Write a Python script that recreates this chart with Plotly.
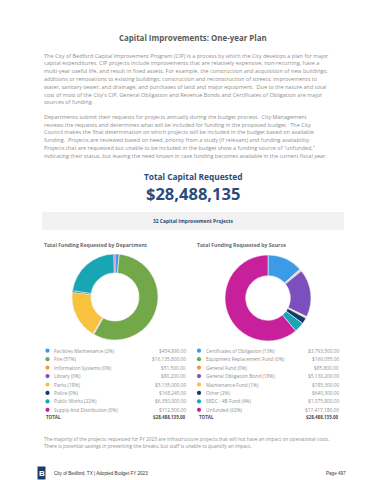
import plotly.graph_objects as go

# ---------------- data ----------------
dept_labels = ["Facilities Maintenance (2%)", "Fire (57%)", "Information Systems (0%)", "Library (0%)",
               "Parks (18%)", "Police (0%)", "Public Works (22%)", "Supply And Distribution (0%)"]
dept_values = [454890, 16135800, 51500, 80200, 5135000, 168245, 6350000, 112500]

src_labels = ["Certificates of Obligation (13%)", "Equipment Replacement Fund (0%)", "General Fund (0%)",
              "General Obligation Bond (18%)", "Maintenance Fund (1%)", "Other (2%)",
              "SEDC - 4B Fund (4%)", "Unfunded (62%)"]
src_values = [3793500, 160055, 85800, 5130200, 185300, 640300, 1075800, 17417180]

dept_colors = ["#3b9be6", "#72a84a", "#f39a3c", "#7b52be", "#f8c23f", "#133b66", "#18a6b4", "#c8209b"]
src_colors = ["#3b9be6", "#c9d3cf", "#f39a3c", "#7b4fbd", "#f3e7c4", "#133b66", "#18a6b4", "#c8209b"]
legend_colors = ["#3b9be6", "#72a84a", "#f39a3c", "#7b52be", "#f8c23f", "#133b66", "#18a6b4", "#c8209b"]

total_requested = 28488135
project_count = 32

title = "Capital Improvements: One-year Plan"
para1 = [
    "The City of Bedford Capital Improvement Program (CIP) is a process by which the City develops a plan for major",
    "capital expenditures. CIP projects include improvements that are relatively expensive, non-recurring, have a",
    "multi-year useful life, and result in fixed assets. For example, the construction and acquisition of new buildings;",
    "additions or renovations to existing buildings; construction and reconstruction of streets; improvements to",
    "water, sanitary sewer, and drainage; and purchases of land and major equipment.  Due to the nature and total",
    "cost of most of the City's CIP, General Obligation and Revenue Bonds and Certificates of Obligation are major",
    "sources of funding.",
]
para2 = [
    "Departments submit their requests for projects annually during the budget process.  City Management",
    "reviews the requests and determines what will be included for funding in the proposed budget.  The City",
    "Council makes the final determination on which projects will be included in the budget based on available",
    "funding.  Projects are reviewed based on need, priority from a study (if relevant) and funding availability.",
    "Projects that are requested but unable to be included in the budget show a funding source of \"unfunded,\"",
    "indicating their status, but leaving the need known in case funding becomes available in the current fiscal year.",
]
para3 = [
    "The majority of the projects requested for FY 2023 are infrastructure projects that will not have an impact on operational costs.",
    "There is potential savings in preventing line breaks, but staff is unable to quantify an impact.",
]

# ---------------- figure ----------------
W, H = 370, 480
FONT = "Open Sans"
NAVY = "#2a4c7b"
GREY = "#8f8f8f"

fig = go.Figure()

def pie_domain(cx, cy, r):
    return dict(x=[(cx - r) / W, (cx + r) / W], y=[1 - (cy + r) / H, 1 - (cy - r) / H])

fig.add_trace(go.Pie(labels=dept_labels, values=dept_values, sort=False, direction="clockwise",
                     hole=0.56, textinfo="none", showlegend=False,
                     marker=dict(colors=dept_colors, line=dict(color="#f4f4f4", width=0.6)),
                     domain=pie_domain(107, 289, 43)))
fig.add_trace(go.Pie(labels=src_labels, values=src_values, sort=False, direction="clockwise",
                     hole=0.52, textinfo="none", showlegend=False,
                     marker=dict(colors=src_colors, line=dict(color="#f4f4f4", width=0.6)),
                     domain=pie_domain(260, 290, 43)))

# legend dots via scatter on a pixel-like overlay axis
row0, row_step = 342.7, 8.45
rows_y = [row0 + i * row_step for i in range(len(dept_labels))]
fig.add_trace(go.Scatter(x=[39.5] * len(dept_labels), y=rows_y, mode="markers",
                         marker=dict(size=4.2, color=legend_colors), showlegend=False, hoverinfo="skip"))
fig.add_trace(go.Scatter(x=[191] * len(src_labels), y=rows_y, mode="markers",
                         marker=dict(size=4.2, color=legend_colors), showlegend=False, hoverinfo="skip"))

ann = []
def txt(x, y, s, size, color=GREY, anchor="left", bold=False, family=FONT):
    ann.append(dict(x=x, y=y, xref="x", yref="y", text=("<b>%s</b>" % s) if bold else s,
                    showarrow=False, xanchor=anchor, yanchor="middle",
                    font=dict(size=size, color=color, family=family)))

txt(185, 30, title, 7.9, "#5a5a5a", "center", True)
for i, line in enumerate(para1):
    txt(33.5, 47.7 + i * 7.78, line, 5.5)
for i, line in enumerate(para2):
    txt(33.5, 109 + i * 7.74, line, 5.5)

txt(185, 168, "Total Capital Requested", 8.3, NAVY, "center", True)
txt(185, 185, "${:,}".format(total_requested), 16.5, NAVY, "center", True)

txt(185, 213, "%d Capital Improvement Projects" % project_count, 4.9, NAVY, "center", True)
txt(33.5, 237.3, "Total Funding Requested by Department", 5.1, "#6a6a6a", "left", True)
txt(186.5, 237.3, "Total Funding Requested by Source", 5.1, "#6a6a6a", "left", True)

LF = 4.8
for i, (lab, v) in enumerate(zip(dept_labels, dept_values)):
    txt(43.5, rows_y[i], lab, LF)
    txt(180, rows_y[i], "${:,.2f}".format(v), LF, anchor="right")
for i, (lab, v) in enumerate(zip(src_labels, src_values)):
    txt(195.5, rows_y[i], lab, LF)
    txt(333, rows_y[i], "${:,.2f}".format(v), LF, anchor="right")
ty = rows_y[-1] + 7.6
txt(35.5, ty, "TOTAL", 4.5, "#4a4a4a", bold=True)
txt(180, ty, "${:,.2f}".format(sum(dept_values)), 4.5, "#4a4a4a", "right", True)
txt(188.5, ty, "TOTAL", 4.5, "#4a4a4a", bold=True)
txt(333, ty, "${:,.2f}".format(sum(src_values)), 4.5, "#4a4a4a", "right", True)

for i, line in enumerate(para3):
    txt(33.5, 430.7 + i * 7.1, line, 4.85)

# footer
txt(44, 465, "City of Bedford, TX | Adopted Budget FY 2023", 4.6, "#333333", family="Liberation Sans")
txt(340, 465, "Page 497", 4.6, "#333333", "right", family="Liberation Sans")
txt(33.6, 465, "B", 8, "#ffffff", "center", True, family="Liberation Sans")

shapes = [
    dict(type="rect", xref="x", yref="y", x0=34, x1=336, y0=204, y1=222,
         fillcolor="#f2f2f2", line=dict(width=0), layer="below"),
    dict(type="rect", xref="x", yref="y", x0=29.5, x1=37.5, y0=458.5, y1=471.5,
         fillcolor="#1d3c6a", line=dict(width=0), layer="below"),
]

fig.update_layout(
    width=W, height=H, margin=dict(l=0, r=0, t=0, b=0),
    paper_bgcolor="white", plot_bgcolor="rgba(0,0,0,0)",
    xaxis=dict(range=[0, W], visible=False, fixedrange=True, domain=[0, 1]),
    yaxis=dict(range=[H, 0], visible=False, fixedrange=True, domain=[0, 1]),
    annotations=ann, shapes=shapes, showlegend=False,
)

fig.write_html("out.html", config={"displayModeBar": False})
